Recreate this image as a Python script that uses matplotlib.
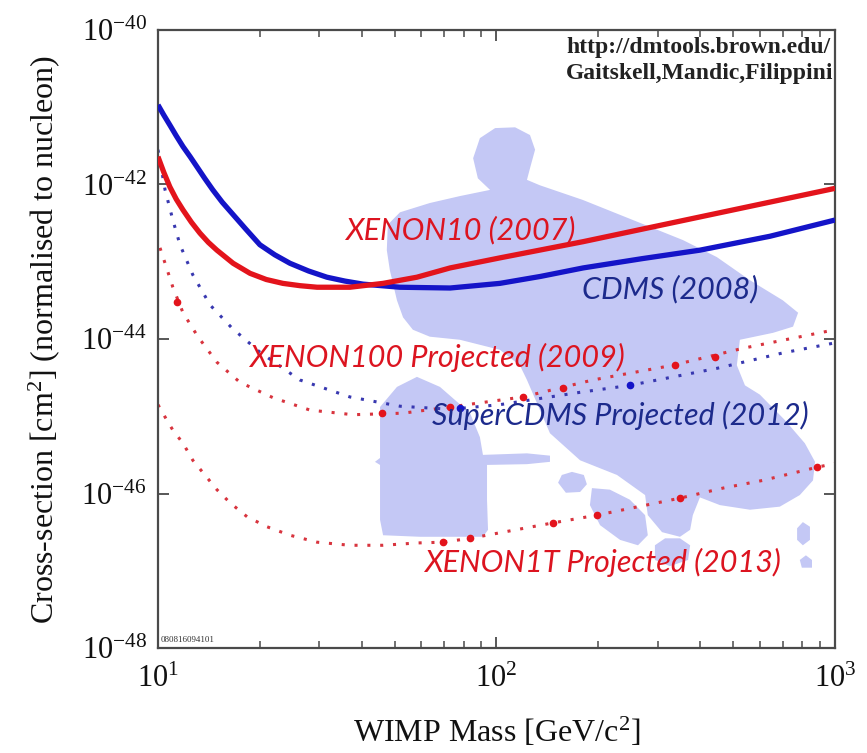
import numpy as np
import matplotlib
matplotlib.use("Agg")
import matplotlib.pyplot as plt
from matplotlib.ticker import LogLocator, NullLocator, NullFormatter

plt.rcParams['font.family'] = 'Liberation Serif'
plt.rcParams['mathtext.fontset'] = 'custom'
plt.rcParams['mathtext.rm'] = 'Liberation Serif'
plt.rcParams['mathtext.it'] = 'Liberation Serif:italic'

# all curves as log10(mass / GeV) and log10(sigma / cm^2)
xenon10_logm = [1.000, 1.017, 1.035, 1.054, 1.074, 1.099, 1.124, 1.149, 1.174, 1.222, 1.272, 1.320, 1.369, 1.420,
                1.470, 1.567, 1.665, 1.765, 1.863, 2.010, 2.256, 2.601, 3.000]
xenon10_logs = [-41.64, -41.84, -42.03, -42.19, -42.33, -42.49, -42.63, -42.75, -42.85, -43.02, -43.15, -43.23, -43.28, -43.31,
                -43.33, -43.33, -43.28, -43.20, -43.08, -42.95, -42.74, -42.42, -42.05]

cdms_logm = [1.000, 1.017, 1.035, 1.054, 1.074, 1.095, 1.115, 1.138, 1.162, 1.190, 1.222, 1.260, 1.301, 1.345, 1.390,
             1.445, 1.499, 1.552, 1.606, 1.715, 1.863, 2.010, 2.130, 2.256, 2.430, 2.601, 2.808, 3.000]
cdms_logs = [-40.97, -41.10, -41.23, -41.37, -41.51, -41.64, -41.77, -41.92, -42.07, -42.23, -42.39, -42.58, -42.78, -42.91, -43.02,
             -43.12, -43.20, -43.25, -43.29, -43.33, -43.34, -43.28, -43.19, -43.08, -42.96, -42.85, -42.67, -42.46]

xe100_logm = [1.006, 1.021, 1.044, 1.074, 1.118, 1.174, 1.242, 1.340, 1.449, 1.576, 1.724, 1.863, 2.078, 2.285, 2.521, 2.728, 3.000]
xe100_logs = [-42.82, -43.02, -43.33, -43.66, -43.97, -44.30, -44.56, -44.76, -44.92, -44.98, -44.96, -44.88, -44.75, -44.53, -44.34, -44.12, -43.88]
xe100_pts_logm = [1.056, 1.662, 1.863, 2.078, 2.196, 2.527, 2.645]
xe100_pts_logs = [-43.52, -44.96, -44.88, -44.75, -44.63, -44.34, -44.23]

scdms_logm = [1.000, 1.021, 1.044, 1.065, 1.103, 1.154, 1.219, 1.301, 1.419, 1.567, 1.715, 1.863, 2.010, 2.247, 2.394, 2.651, 2.846, 3.000]
scdms_logs = [-41.55, -42.07, -42.46, -42.78, -43.17, -43.56, -43.86, -44.17, -44.53, -44.75, -44.87, -44.91, -44.85, -44.69, -44.60, -44.38, -44.18, -44.05]
scdms_pts_logm = [1.892, 2.394]
scdms_pts_logs = [-44.89, -44.60]

xe1t_logm = [1.000, 1.021, 1.044, 1.074, 1.103, 1.133, 1.174, 1.213, 1.263, 1.322, 1.390, 1.470, 1.567, 1.665, 1.765, 1.842, 1.922, 2.167, 2.297, 2.542, 2.669, 2.787, 2.947, 3.000]
xe1t_logs = [-44.85, -45.01, -45.18, -45.35, -45.57, -45.73, -45.95, -46.12, -46.30, -46.43, -46.54, -46.63, -46.67, -46.67, -46.64, -46.63, -46.58, -46.38, -46.28, -46.06, -45.93, -45.83, -45.66, -45.61]
xe1t_pts_logm = [1.842, 1.922, 2.167, 2.297, 2.542, 2.947]
xe1t_pts_logs = [-46.63, -46.58, -46.38, -46.28, -46.06, -45.66]

# theory (SUSY) regions, outlines
main_logm = [1.676, 1.679, 1.715, 1.803, 1.892, 1.981, 1.945, 1.931, 1.951, 1.996, 2.055, 2.099, 2.114, 2.099, 2.090,
             2.128, 2.255, 2.403, 2.551, 2.651, 2.749, 2.846, 2.891, 2.876, 2.817, 2.719, 2.710, 2.734, 2.778,
             2.852, 2.911, 2.941, 2.935, 2.896, 2.837, 2.749, 2.660, 2.601, 2.580, 2.572, 2.542, 2.489, 2.447,
             2.439, 2.356, 2.247, 2.158, 2.090, 2.069, 2.010, 1.892, 1.803, 1.753, 1.724, 1.706, 1.685]
main_logs = [-42.85, -42.52, -42.36, -42.24, -42.15, -42.07, -41.92, -41.66, -41.40, -41.27, -41.26, -41.36, -41.55, -41.79, -41.94,
             -42.01, -42.20, -42.46, -42.72, -42.94, -43.24, -43.50, -43.66, -43.84, -43.92, -44.01, -44.34, -44.60, -44.72,
             -45.05, -45.35, -45.59, -45.83, -46.02, -46.17, -46.21, -46.15, -46.05, -46.28, -46.47, -46.56, -46.50, -46.28,
             -46.02, -45.76, -45.57, -45.22, -44.53, -44.34, -44.14, -44.01, -43.97, -43.88, -43.72, -43.50, -43.11]

house_logm = [1.656, 1.706, 1.765, 1.833, 1.922, 1.951, 1.960, 2.090, 2.158, 2.158, 2.090, 1.972, 1.972, 1.975,
              1.960, 1.774, 1.665, 1.656, 1.656, 1.641, 1.656]
house_logs = [-44.88, -44.62, -44.49, -44.62, -44.96, -45.27, -45.50, -45.48, -45.51, -45.59, -45.62, -45.63, -46.08, -46.47,
              -46.56, -46.56, -46.54, -46.34, -45.63, -45.59, -45.54]

blob1_logm = [2.182, 2.193, 2.223, 2.258, 2.267, 2.247, 2.205]
blob1_logs = [-45.86, -45.76, -45.72, -45.76, -45.88, -45.98, -45.99]
blob2_logm = [2.282, 2.335, 2.394, 2.439, 2.447, 2.418, 2.365, 2.306, 2.276]
blob2_logs = [-45.93, -45.95, -46.08, -46.28, -46.54, -46.67, -46.60, -46.41, -46.15]
blob3_logm = [2.468, 2.498, 2.542, 2.572, 2.566, 2.512, 2.468]
blob3_logs = [-46.67, -46.58, -46.58, -46.67, -46.86, -46.94, -46.86]
blob4_logm = [2.888, 2.905, 2.926, 2.926, 2.905, 2.888]
blob4_logs = [-46.45, -46.37, -46.43, -46.60, -46.67, -46.60]
blob5_logm = [2.896, 2.914, 2.932, 2.932, 2.902]
blob5_logs = [-46.86, -46.80, -46.86, -46.96, -46.96]

ytick_exps = [-48, -46, -44, -42, -40]
xtick_exps = [1, 2, 3]

RED = '#e3141c'
BLUE = '#1414c8'
RED_DOT = '#d8343e'
BLUE_DOT = '#3838b0'
SHADE = '#c4c8f5'
LAB_RED = '#dc1420'
LAB_BLUE = '#1c2a8c'


def p(v):
    return 10.0 ** np.asarray(v)


fig = plt.figure(figsize=(8.67, 7.53), dpi=100)
ax = fig.add_axes([0.1822, 0.1394, 0.7809, 0.8208])
ax.set_xscale('log')
ax.set_yscale('log')

for lm, ls in [(main_logm, main_logs), (house_logm, house_logs), (blob1_logm, blob1_logs),
               (blob2_logm, blob2_logs), (blob3_logm, blob3_logs), (blob4_logm, blob4_logs),
               (blob5_logm, blob5_logs)]:
    ax.fill(p(lm), p(ls), color=SHADE, lw=0, zorder=1)

dots = (0, (1.0, 3.2))
ax.plot(p(xe100_logm), p(xe100_logs), color=RED_DOT, lw=2.2, ls=dots, zorder=2)
ax.plot(p(scdms_logm), p(scdms_logs), color=BLUE_DOT, lw=2.2, ls=dots, zorder=2)
ax.plot(p(xe1t_logm), p(xe1t_logs), color=RED_DOT, lw=2.2, ls=dots, zorder=2)
ax.plot(p(xe100_pts_logm), p(xe100_pts_logs), 'o', color=RED, ms=4.5, zorder=3)
ax.plot(p(scdms_pts_logm), p(scdms_pts_logs), 'o', color=BLUE, ms=4.5, zorder=3)
ax.plot(p(xe1t_pts_logm), p(xe1t_pts_logs), 'o', color=RED, ms=4.5, zorder=3)

ax.plot(p(cdms_logm), p(cdms_logs), color=BLUE, lw=3.8, zorder=4, solid_capstyle='butt', solid_joinstyle='round')
ax.plot(p(xenon10_logm), p(xenon10_logs), color=RED, lw=3.8, zorder=5, solid_capstyle='butt', solid_joinstyle='round')

ax.set_xlim(10, 1000)
ax.set_ylim(1e-48, 1e-40)

ax.set_yticks(p(ytick_exps))
ax.set_yticklabels([f'$10^{{{e}}}$' for e in ytick_exps])
ax.yaxis.set_minor_locator(NullLocator())
ax.set_xticks(p(xtick_exps))
ax.set_xticklabels([f'$10^{{{e}}}$' for e in xtick_exps])
ax.xaxis.set_minor_locator(LogLocator(base=10, subs=np.arange(2, 10)))
ax.xaxis.set_minor_formatter(NullFormatter())

frame = '#4a4a4a'
for s in ax.spines.values():
    s.set_color(frame)
    s.set_linewidth(1.6)
ax.tick_params(which='both', direction='in', top=True, right=True, colors=frame,
               labelcolor='#111111', labelsize=22)
ax.tick_params(which='major', length=8, width=1.3)
ax.tick_params(which='minor', length=5, width=1.1)
ax.tick_params(axis='x', pad=12)
ax.tick_params(axis='y', pad=8)

ax.set_xlabel('WIMP Mass [GeV/c$^2$]', fontsize=23, labelpad=16, color='#111111')
ax.set_ylabel('Cross-section [cm$^2$] (normalised to nucleon)', fontsize=23, labelpad=14, color='#111111')

lab = dict(fontfamily='Lato', style='italic', fontsize=22, ha='center', va='center', zorder=6)
ax.text(0.446, 0.676, 'XENON10 (2007)', color=LAB_RED, transform=ax.transAxes, **lab)
ax.text(0.756, 0.580, 'CDMS (2008)', color=LAB_BLUE, transform=ax.transAxes, **lab)
ax.text(0.412, 0.470, 'XENON100 Projected (2009)', color=LAB_RED, transform=ax.transAxes, **lab)
ax.text(0.683, 0.377, 'SuperCDMS Projected (2012)', color=LAB_BLUE, transform=ax.transAxes, **lab)
ax.text(0.657, 0.138, 'XENON1T Projected (2013)', color=LAB_RED, transform=ax.transAxes, **lab)

ax.text(0.603, 0.988, 'http://dmtools.brown.edu/', transform=ax.transAxes, fontsize=17,
        fontweight='bold', va='top', ha='left', color='#222222', clip_on=True, zorder=6)
ax.text(0.603, 0.947, 'Gaitskell,Mandic,Filippini', transform=ax.transAxes, fontsize=17,
        fontweight='bold', va='top', ha='left', color='#222222', clip_on=True, zorder=6)
ax.text(0.004, 0.006, '080816094101', transform=ax.transAxes, fontsize=6.5,
        va='bottom', ha='left', color='#333333', zorder=6)

fig.savefig('out.png', dpi=100)
